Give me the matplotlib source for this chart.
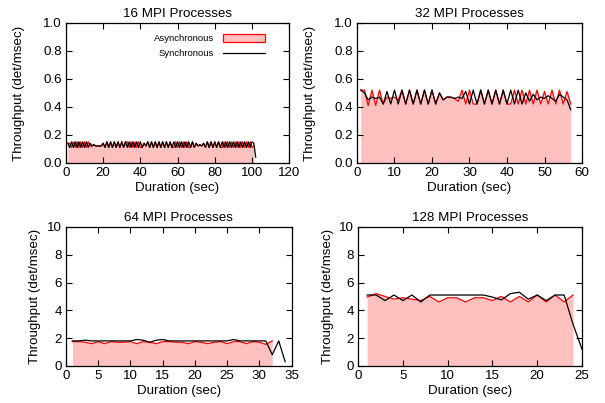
import numpy as np
import matplotlib
matplotlib.use('Agg')
import matplotlib.pyplot as plt
from matplotlib.patches import Patch
from matplotlib.lines import Line2D
from matplotlib.ticker import FormatStrFormatter

plt.rcParams['font.family'] = ['Liberation Sans', 'DejaVu Sans']

# throughput per second (det/msec), one value per second starting at t = 1
sync_16 = [0.14, 0.11, 0.15, 0.11, 0.15, 0.11, 0.15, 0.11, 0.15, 0.11,
           0.15, 0.11, 0.14, 0.12, 0.13, 0.12, 0.12, 0.12, 0.12, 0.14,
           0.11, 0.15, 0.11, 0.15, 0.11, 0.15, 0.11, 0.15, 0.11, 0.15,
           0.11, 0.15, 0.11, 0.15, 0.11, 0.15, 0.11, 0.15, 0.11, 0.15,
           0.11, 0.14, 0.12, 0.15, 0.11, 0.15, 0.11, 0.15, 0.11, 0.15,
           0.11, 0.15, 0.11, 0.15, 0.11, 0.15, 0.11, 0.15, 0.11, 0.15,
           0.11, 0.15, 0.11, 0.15, 0.11, 0.15, 0.11, 0.15, 0.11, 0.14,
           0.12, 0.13, 0.12, 0.14, 0.11, 0.15, 0.11, 0.15, 0.11, 0.15,
           0.11, 0.15, 0.11, 0.15, 0.11, 0.15, 0.11, 0.15, 0.11, 0.15,
           0.11, 0.15, 0.11, 0.15, 0.11, 0.15, 0.11, 0.15, 0.11, 0.15,
           0.14, 0.04]
async_16 = [0.14, 0.14, 0.11, 0.15, 0.11, 0.15, 0.11, 0.15, 0.11, 0.15,
            0.11, 0.15, 0.12, 0.12, 0.13, 0.12, 0.12, 0.12, 0.12, 0.14,
            0.11, 0.15, 0.11, 0.15, 0.11, 0.15, 0.11, 0.15, 0.11, 0.15,
            0.11, 0.15, 0.15, 0.11, 0.15, 0.11, 0.15, 0.11, 0.15, 0.11,
            0.11, 0.14, 0.12, 0.15, 0.11, 0.15, 0.11, 0.15, 0.11, 0.15,
            0.11, 0.15, 0.11, 0.15, 0.11, 0.15, 0.11, 0.11, 0.15, 0.11,
            0.15, 0.11, 0.15, 0.11, 0.15, 0.11, 0.11, 0.15, 0.11, 0.14,
            0.12, 0.13, 0.12, 0.14, 0.11, 0.15, 0.11, 0.15, 0.11, 0.15,
            0.11, 0.15, 0.11, 0.11, 0.15, 0.11, 0.15, 0.11, 0.15, 0.11,
            0.15, 0.11, 0.15, 0.11, 0.15, 0.11, 0.15, 0.11, 0.15, 0.11,
            0.12]

sync_32 = [0.52, 0.50, 0.45, 0.47, 0.46, 0.47, 0.42, 0.51, 0.42, 0.52,
           0.42, 0.52, 0.42, 0.52, 0.42, 0.52, 0.42, 0.52, 0.42, 0.52,
           0.42, 0.50, 0.45, 0.47, 0.47, 0.46, 0.47, 0.46, 0.51, 0.42,
           0.52, 0.42, 0.52, 0.42, 0.52, 0.42, 0.52, 0.42, 0.52, 0.42,
           0.52, 0.42, 0.52, 0.42, 0.50, 0.44, 0.49, 0.45, 0.47, 0.46,
           0.48, 0.46, 0.44, 0.49, 0.47, 0.45, 0.38]
async_32 = [0.52, 0.52, 0.41, 0.52, 0.41, 0.52, 0.42, 0.47, 0.46, 0.47,
            0.45, 0.52, 0.42, 0.52, 0.42, 0.52, 0.42, 0.52, 0.42, 0.52,
            0.42, 0.50, 0.45, 0.47, 0.47, 0.46, 0.44, 0.52, 0.42, 0.52,
            0.42, 0.42, 0.52, 0.42, 0.52, 0.42, 0.52, 0.42, 0.52, 0.42,
            0.42, 0.52, 0.42, 0.52, 0.42, 0.52, 0.42, 0.52, 0.42, 0.51,
            0.42, 0.52, 0.42, 0.52, 0.42, 0.51, 0.42]

sync_64 = [1.8, 1.8, 1.85, 1.8, 1.8, 1.8, 1.8, 1.8, 1.8, 1.8,
           1.9, 1.85, 1.7, 1.85, 1.9, 1.8, 1.8, 1.8, 1.8, 1.8,
           1.8, 1.8, 1.8, 1.8, 1.8, 1.9, 1.8, 1.8, 1.8, 1.8,
           1.8, 0.8, 1.8, 0.3]
async_64 = [1.75, 1.75, 1.7, 1.6, 1.75, 1.6, 1.75, 1.7, 1.7, 1.75,
            1.6, 1.75, 1.7, 1.6, 1.75, 1.75, 1.7, 1.7, 1.6, 1.75,
            1.7, 1.6, 1.7, 1.75, 1.6, 1.75, 1.75, 1.6, 1.75, 1.7,
            1.55, 1.8]

sync_128 = [5.1, 5.1, 4.7, 5.1, 4.7, 5.1, 4.6, 5.1, 5.1, 5.1,
            5.1, 5.1, 5.1, 5.1, 4.95, 4.75, 5.2, 5.3, 4.8, 5.1,
            4.7, 5.1, 5.1, 3.0, 1.2]
async_128 = [4.95, 5.2, 5.0, 4.8, 4.9, 4.8, 4.7, 5.0, 4.6, 4.9,
             4.9, 4.6, 4.9, 4.9, 4.7, 5.0, 4.6, 5.0, 4.6, 5.1,
             4.6, 5.1, 4.6, 5.1]

titles = ['16 MPI Processes', '32 MPI Processes',
          '64 MPI Processes', '128 MPI Processes']
series = [(async_16, sync_16), (async_32, sync_32),
          (async_64, sync_64), (async_128, sync_128)]
xmax = [120, 60, 35, 25]
xstep = [20, 10, 5, 5]
ymax = [1.0, 1.0, 10, 10]
ystep = [0.2, 0.2, 2, 2]

# axes boxes in figure fractions [left, bottom, width, height]
boxes = [[0.109, 0.596, 0.369, 0.347],
         [0.590, 0.596, 0.372, 0.347],
         [0.109, 0.092, 0.373, 0.345],
         [0.592, 0.092, 0.370, 0.345]]

PINK = '#ffc0c0'
RED = '#ff0000'
FS = 9.6

fig = plt.figure(figsize=(6.05, 4.03), dpi=100)

for i in range(4):
    ax = fig.add_axes(boxes[i])
    a, s = series[i]
    xa = np.arange(1, len(a) + 1)
    xs = np.arange(1, len(s) + 1)
    ax.fill_between(xa, 0, a, color=PINK, linewidth=0)
    ax.plot(xa, a, color=RED, linewidth=0.9)
    ax.plot(xs, s, color='black', linewidth=0.9)

    ax.set_xlim(0, xmax[i])
    ax.set_ylim(0, ymax[i])
    ax.set_xticks(np.arange(0, xmax[i] + 0.01, xstep[i]))
    ax.set_yticks(np.arange(0, ymax[i] + 0.001, ystep[i]))
    if ymax[i] == 1.0:
        ax.yaxis.set_major_formatter(FormatStrFormatter('%.1f'))
        ypad = 13
    else:
        ax.yaxis.set_major_formatter(FormatStrFormatter('%d'))
        ypad = 4
    ax.tick_params(direction='in', top=True, right=True, length=4,
                   width=0.8, labelsize=FS, pad=3)
    for sp in ax.spines.values():
        sp.set_linewidth(0.9)

    ax.set_title(titles[i], fontsize=FS, pad=4)
    ax.set_xlabel('Duration (sec)', fontsize=FS, labelpad=2)
    ax.set_ylabel('Throughput (det/msec)', fontsize=FS, labelpad=ypad)

    if i == 0:
        handles = [Patch(facecolor=PINK, edgecolor=RED, linewidth=0.9),
                   Line2D([0], [0], color='black', linewidth=0.9)]
        ax.legend(handles, ['Asynchronous', 'Synchronous'],
                  loc='upper right', bbox_to_anchor=(0.93, 0.98),
                  frameon=False, markerfirst=False, fontsize=6.8,
                  handlelength=4.5, handleheight=0.9,
                  handletextpad=0.9, labelspacing=0.6)

fig.savefig('out.png', dpi=100)
